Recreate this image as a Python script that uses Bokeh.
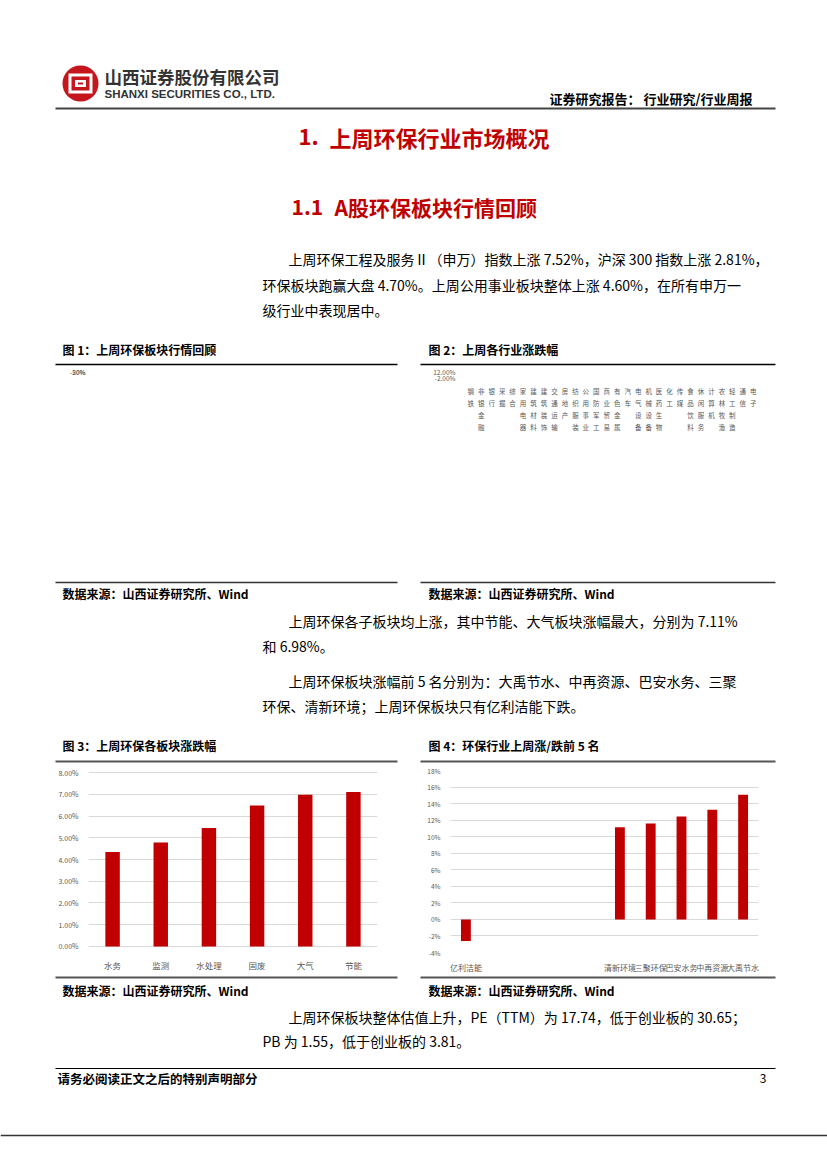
import math
import pandas as pd
from bokeh.plotting import figure
from bokeh.layouts import column, row
from bokeh.models import (Range1d, Spacer, FixedTicker, PrintfTickFormatter,
                          Legend, LegendItem, FactorRange, LabelSet, ColumnDataSource)
from bokeh.core.properties import value
from bokeh.embed import file_html
from bokeh.resources import INLINE

FONT = "Noto Sans CJK SC"

# ---------------- data ----------------
# Fig 1: cumulative return (%), 2018-02-22 .. 2019-02-15
env_series_name = "环保工程及服务Ⅱ（申万）"
hs300_name = "沪深300"
env_values = [0.7, 4.3, 5.0, 4.6, 7.9, 6.4, 4.6, 0.7, 6.0, 4.3, 4.3, 2.9, 1.6, -0.2, 1.1, 1.6,
              2.9, 5.2, 4.3, 4.3, 5.5, 2.5, -2.5, -4.6, -5.5, -8.2, -13.6, -16.3, -15.4, -16.3,
              -18.6, -18.9, -17.5, -17.1, -15.0, -13.9, -15.4, -18.9, -20.7, -20.7, -24.3, -23.9,
              -23.6, -25.2, -26.1, -26.4, -27.5, -28.2, -26.4, -26.1, -27.0, -27.9, -28.8, -35.0,
              -39.5, -37.7, -36.8, -38.2, -34.1, -34.1, -32.3, -28.8, -30.5, -34.1, -34.1, -32.3,
              -33.2, -33.2, -34.1, -35.4, -37.1, -38.6, -38.6, -37.7, -38.2, -38.2, -38.9, -40.7,
              -43.6, -41.3, -40.7, -39.5, -37.1]
hs300_values = [1.1, -0.2, -1.1, -0.2, 1.25, 0.7, 0.7, -3.75, -4.3, -3.75, -3.2, -4.3, -6.4, -6.1,
                -7.3, -6.8, -5.5, -4.6, -3.75, -4.3, -3.2, -5.5, -7.9, -6.4, -5.5, -7.3, -9.1,
                -10.9, -13.6, -15.4, -17.5, -15.4, -14.5, -14.5, -13.6, -12.1, -13.9, -16.3, -18.6,
                -17.1, -19.8, -18.6, -16.8, -17.5, -18.6, -19.3, -20.4, -20.4, -17.5, -15.4, -15.7,
                -17.5, -19.3, -22.5, -23.4, -23.9, -21.6, -22.5, -19.3, -20.4, -22.1, -19.3, -20.4,
                -22.5, -21.6, -19.6, -21.0, -22.9, -23.9, -25.2, -26.1, -27.0, -26.4, -24.6, -23.9,
                -22.5, -22.1, -21.6, -21.6, -20.4, -19.3, -18.6, -16.8]
date_start, date_end = "2018-02-22", "2019-02-15"
date_ticks = ["2018-02-22", "2018-03-22", "2018-04-22", "2018-05-22", "2018-06-22", "2018-07-22",
              "2018-08-22", "2018-09-22", "2018-10-22", "2018-11-22", "2018-12-22", "2019-01-22"]
fig1_yticks = [-50, -40, -30, -20, -10, 0, 10, 20]

# Fig 2: weekly change of SW level-1 industries (%)
industries = ["钢铁", "非银金融", "银行", "采掘", "综合", "家用电器", "建筑材料", "建筑装饰",
              "交通运输", "房地产", "纺织服装", "公用事业", "国防军工", "商业贸易", "有色金属",
              "汽车", "电气设备", "机械设备", "医药生物", "化工", "传媒", "食品饮料", "休闲服务",
              "计算机", "农林牧渔", "轻工制造", "通信", "电子"]
industry_changes = [-0.95, 1.9, 1.9, 2.2, 2.45, 2.7, 3.05, 3.2, 3.4, 3.65, 4.3, 4.6, 4.6, 4.9,
                    5.05, 5.15, 5.25, 5.4, 5.5, 5.85, 5.85, 6.05, 6.15, 7.0, 7.0, 8.35, 10.55, 10.85]
highlight_industry = "公用事业"
fig2_yticks = [-2, 0, 2, 4, 6, 8, 10, 12]

# Fig 3: sub-sector change (%)
subsectors = ["水务", "监测", "水处理", "固废", "大气", "节能"]
subsector_changes = [4.35, 4.78, 5.45, 6.49, 6.98, 7.11]
fig3_yticks = [0, 1, 2, 3, 4, 5, 6, 7, 8]

# Fig 4: top/bottom 5 stocks (%)
stock_slots = [0, 5, 6, 7, 8, 9]
stock_names = ["亿利洁能", "清新环境", "三聚环保", "巴安水务", "中再资源", "大禹节水"]
stock_changes = [-2.6, 11.14, 11.6, 12.44, 13.27, 15.08]
fig4_yticks = [-4, -2, 0, 2, 4, 6, 8, 10, 12, 14, 16, 18]

# page texts
company_cn = "山西证券股份有限公司"
company_en = "SHANXI SECURITIES CO., LTD."
report_type = "证券研究报告：  行业研究/行业周报"
title_1 = ["1.", "上周环保行业市场概况"]
title_11 = ["1.1", "A股环保板块行情回顾"]
para1 = ["上周环保工程及服务Ⅱ（申万）指数上涨 7.52%，沪深 300 指数上涨 2.81%，",
         "环保板块跑赢大盘 4.70%。上周公用事业板块整体上涨 4.60%，在所有申万一",
         "级行业中表现居中。"]
para2 = ["上周环保各子板块均上涨，其中节能、大气板块涨幅最大，分别为 7.11%",
         "和 6.98%。"]
para3 = ["上周环保板块涨幅前 5 名分别为：大禹节水、中再资源、巴安水务、三聚",
         "环保、清新环境；上周环保板块只有亿利洁能下跌。"]
para4 = ["上周环保板块整体估值上升，PE（TTM）为 17.74，低于创业板的 30.65；",
         "PB 为 1.55，低于创业板的 3.81。"]
captions = ["图 1：上周环保板块行情回顾", "图 2：上周各行业涨跌幅",
            "图 3：上周环保各板块涨跌幅", "图 4：环保行业上周涨/跌前 5 名"]
source_text = "数据来源：山西证券研究所、Wind"
footer_text = "请务必阅读正文之后的特别声明部分"
page_no = "3"

RED = "#C00000"
BLUE = "#2E75B6"
GRID = "#D9D9D9"
TICK = "#595959"
PAGE_W = 827


# ---------------- helpers ----------------
def page_fig(y0, y1):
    f = figure(width=PAGE_W, height=y1 - y0, x_range=Range1d(0, PAGE_W), y_range=Range1d(y1, y0),
               x_axis_type=None, y_axis_type=None, output_backend="svg",
               toolbar_location=None, min_border=0, min_border_left=0, min_border_right=0,
               min_border_top=0, min_border_bottom=0, outline_line_color=None)
    return f


def txt(f, x, y, s, size=14, color="#000000", bold=False, align="left", font=FONT):
    f.text(x=[x], y=[y], text=[s], text_font=value(font), text_font_size=f"{size}px",
           text_color=color, text_font_style="bold" if bold else "normal",
           text_align=align, text_baseline="middle")


def hline(f, x0, x1, y, color="#000000", width=1.0):
    f.segment(x0=[x0], y0=[y], x1=[x1], y1=[y], line_color=color, line_width=width)


def style(p, tick_size="6.5px"):
    p.outline_line_color = None
    p.axis.axis_line_color = None
    p.axis.major_tick_line_color = None
    p.axis.minor_tick_line_color = None
    p.axis.major_label_text_font = FONT
    p.axis.major_label_text_font_size = tick_size
    p.axis.major_label_text_color = TICK
    p.axis.major_label_standoff = 4
    p.xgrid.grid_line_color = None
    p.ygrid.grid_line_color = GRID
    p.ygrid.grid_line_width = 1


# ---------------- header ----------------
head = page_fig(0, 366)
head.circle(x=[80], y=[83], radius=18, fill_color="#C4161C", line_color=None)
head.rect(x=[80], y=[83], width=24, height=20, fill_color="white", line_color=None)
head.rect(x=[80], y=[83], width=18, height=14, fill_color="#C4161C", line_color=None)
head.rect(x=[80], y=[83], width=11, height=7, fill_color="white", line_color=None)
head.rect(x=[80], y=[83], width=5, height=2, fill_color="#C4161C", line_color=None)
txt(head, 104, 76, company_cn, size=17.5, color="#333333", bold=True)
txt(head, 104, 93, company_en, size=11.5, color="#333333", bold=True, font="Liberation Sans")
txt(head, 755, 98, report_type, size=13, bold=True, align="right")
hline(head, 55, 775, 108, color="#444444", width=2)
txt(head, 298, 136, title_1[0], size=22, color=RED, bold=True)
txt(head, 329, 136, title_1[1], size=22, color=RED, bold=True)
txt(head, 291, 206, title_11[0], size=21, color=RED, bold=True)
txt(head, 334, 206, title_11[1], size=21, color=RED, bold=True)
txt(head, 288, 258, para1[0])
txt(head, 262, 284, para1[1])
txt(head, 262, 309, para1[2])
txt(head, 62, 349, captions[0], size=12, bold=True)
txt(head, 428, 349, captions[1], size=12, bold=True)
hline(head, 55, 397, 364, width=1.5)
hline(head, 420, 775, 364, width=1.5)

# ---------------- fig 1 (x = days since start) ----------------
t0 = pd.Timestamp(date_start)
span_days = (pd.Timestamp(date_end) - t0).days
x_env = [(d - t0).total_seconds() / 86400 for d in pd.date_range(date_start, date_end, periods=len(env_values))]
x_hs = [(d - t0).total_seconds() / 86400 for d in pd.date_range(date_start, date_end, periods=len(hs300_values))]
tick_days = [(pd.Timestamp(d) - t0).days for d in date_ticks]

p1 = figure(width=342, height=214, x_range=Range1d(0, span_days),
            y_range=Range1d(-70.35, 20.15), output_backend="svg", toolbar_location=None,
            min_border_left=40, min_border_right=29, min_border_top=11, min_border_bottom=34)
r_env = p1.line(x_env, env_values, line_color=RED, line_width=2)
r_hs = p1.line(x_hs, hs300_values, line_color=BLUE, line_width=2)
style(p1)
p1.yaxis.ticker = FixedTicker(ticks=fig1_yticks)
p1.yaxis.formatter = PrintfTickFormatter(format="%d%%")
p1.xaxis.visible = False
date_src = ColumnDataSource(dict(x=tick_days, y=[-54.3] * len(tick_days), text=date_ticks))
p1.add_layout(LabelSet(x="x", y="y", text="text", source=date_src, angle=math.pi / 4,
                       text_align="right", text_baseline="middle", text_font=value(FONT),
                       text_font_size="6.5px", text_color=TICK))
leg = Legend(items=[LegendItem(label=env_series_name, renderers=[r_env]),
                    LegendItem(label=hs300_name, renderers=[r_hs])],
             orientation="horizontal", location="center", border_line_color=None,
             label_text_font=FONT, label_text_font_size="8px", label_text_color=TICK,
             glyph_width=26, glyph_height=10, spacing=22, margin=6, padding=2)
p1.add_layout(leg, "below")

# ---------------- fig 2 ----------------
p2 = figure(width=355, height=214, x_range=Range1d(-0.5, len(industries) - 0.5),
            y_range=Range1d(-2, 12.25), output_backend="svg", toolbar_location=None,
            min_border_left=45, min_border_right=17, min_border_top=11, min_border_bottom=34)
colors2 = [BLUE if n == highlight_industry else RED for n in industries]
p2.vbar(x=list(range(len(industries))), top=industry_changes, width=0.32,
        fill_color=colors2, line_color=None)
style(p2)
p2.yaxis.ticker = FixedTicker(ticks=fig2_yticks)
p2.yaxis.formatter = PrintfTickFormatter(format="%.2f%%")
p2.xaxis.ticker = FixedTicker(ticks=list(range(len(industries))))
p2.xaxis.major_label_overrides = {i: "\n".join(n) for i, n in enumerate(industries)}
p2.xaxis.major_label_text_font_size = "6.5px"
p2.xaxis.major_label_standoff = 2

# ---------------- middle ----------------
mid = page_fig(580, 763)
hline(mid, 55, 397, 582, color="#333333", width=1.5)
hline(mid, 420, 775, 582, color="#333333", width=1.5)
txt(mid, 62, 593, source_text, size=12, bold=True)
txt(mid, 428, 593, source_text, size=12, bold=True)
txt(mid, 288, 620, para2[0])
txt(mid, 262, 645, para2[1])
txt(mid, 288, 680, para3[0])
txt(mid, 262, 705, para3[1])
txt(mid, 62, 745, captions[2], size=12, bold=True)
txt(mid, 428, 745, captions[3], size=12, bold=True)
hline(mid, 55, 397, 761, color="#555555", width=2)
hline(mid, 420, 775, 761, color="#555555", width=2)

# ---------------- fig 3 ----------------
p3 = figure(width=342, height=212, x_range=FactorRange(*subsectors), y_range=Range1d(-0.28, 8.1),
            output_backend="svg", toolbar_location=None,
            min_border_left=33, min_border_right=20, min_border_top=7, min_border_bottom=18)
p3.vbar(x=subsectors, top=subsector_changes, width=0.3, fill_color=RED, line_color=None)
style(p3, tick_size="7px")
p3.yaxis.ticker = FixedTicker(ticks=fig3_yticks)
p3.yaxis.formatter = PrintfTickFormatter(format="%.2f%%")
p3.xaxis.major_label_text_font_size = "8.5px"
p3.xaxis.major_label_standoff = 0

# ---------------- fig 4 ----------------
p4 = figure(width=355, height=212, x_range=Range1d(-0.5, 9.5), y_range=Range1d(-4, 18),
            output_backend="svg", toolbar_location=None,
            min_border_left=30, min_border_right=17, min_border_top=7, min_border_bottom=18)
p4.vbar(x=stock_slots, top=stock_changes, width=0.32, fill_color=RED, line_color=None)
style(p4, tick_size="6.5px")
p4.yaxis.ticker = FixedTicker(ticks=fig4_yticks)
p4.yaxis.formatter = PrintfTickFormatter(format="%d%%")
p4.xaxis.ticker = FixedTicker(ticks=stock_slots)
p4.xaxis.major_label_overrides = {s: n for s, n in zip(stock_slots, stock_names)}
p4.xaxis.major_label_text_font_size = "8px"
p4.xaxis.major_label_standoff = 3

# ---------------- footer ----------------
foot = page_fig(975, 1165)
hline(foot, 55, 397, 977, color="#555555", width=2)
hline(foot, 420, 775, 977, color="#555555", width=2)
txt(foot, 62, 990, source_text, size=12, bold=True)
txt(foot, 428, 990, source_text, size=12, bold=True)
txt(foot, 288, 1016, para4[0])
txt(foot, 262, 1040, para4[1])
hline(foot, 55, 775, 1068, color="#000000", width=1)
txt(foot, 57, 1078, footer_text, size=12.5, bold=True)
txt(foot, 766, 1078, page_no, size=12, align="right")
hline(foot, 0, PAGE_W, 1135, color="#333333", width=1.5)

row1 = row(Spacer(width=55, height=214), p1, Spacer(width=23, height=214), p2,
           Spacer(width=52, height=214))
row2 = row(Spacer(width=55, height=212), p3, Spacer(width=23, height=212), p4,
           Spacer(width=52, height=212))
layout = column(head, row1, mid, row2, foot)

with open("out.html", "w") as fh:
    fh.write(file_html(layout, INLINE, title="环保行业周报"))
